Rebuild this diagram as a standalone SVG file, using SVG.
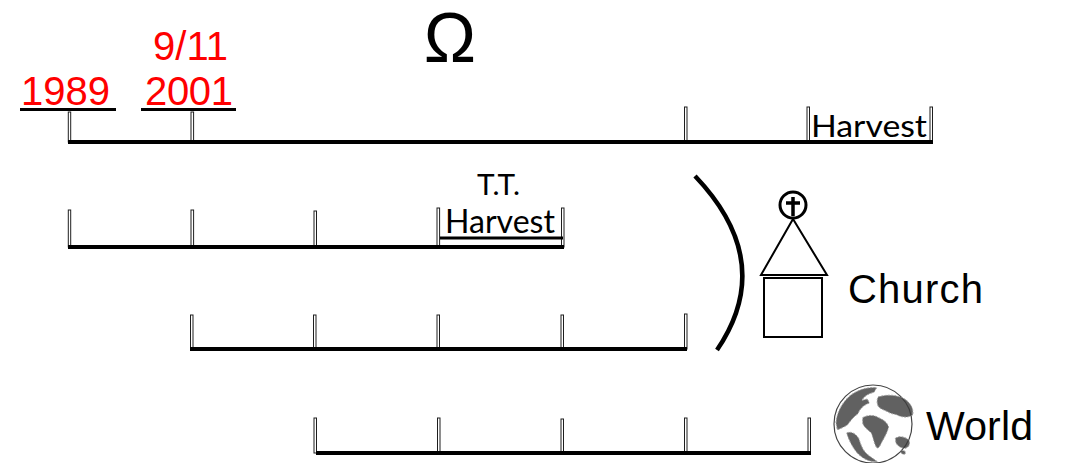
<svg xmlns="http://www.w3.org/2000/svg" width="1066" height="463" viewBox="0 0 1066 463">
<style>
.ln{stroke:#000;stroke-width:4;fill:none}
.ul{stroke:#000;stroke-width:3;fill:none}
.tk{fill:#fff;stroke:#1e1e1e;stroke-width:1}
.red{font-family:"Liberation Sans",Arial,sans-serif;font-size:40px;fill:#ff0000}
.sans{font-family:"Liberation Sans",Arial,sans-serif;fill:#000}
.cal{font-family:Lato,"Open Sans",sans-serif;fill:#000}
</style>
<rect width="1066" height="463" fill="#fff"/>

<g id="omega"><text class="sans" x="450" y="62" font-size="70" text-anchor="middle">Ω</text></g>

<g id="label-1989">
<text class="red" x="21" y="105" textLength="89">1989</text>
<path class="ul" d="M20 109.5H116"/>
</g>
<g id="label-2001">
<text class="red" x="153" y="60" textLength="75">9/11</text>
<text class="red" x="145" y="105" textLength="88">2001</text>
<path class="ul" d="M141 109.5H236"/>
</g>

<g id="connectors">
<!-- row 1 -->
<rect class="tk" x="68.3" y="112" width="2.4" height="30"/>
<rect class="tk" x="191" y="112" width="2.6" height="30"/>
<rect class="tk" x="684.5" y="107" width="2.5" height="35"/>
<rect class="tk" x="807" y="107" width="2.5" height="35"/>
<rect class="tk" x="930" y="107" width="2.5" height="36"/>
<path class="ln" d="M68 142H933"/>
<!-- row 2 -->
<rect class="tk" x="68.3" y="210" width="2.4" height="37"/>
<rect class="tk" x="191" y="210" width="2.6" height="37"/>
<rect class="tk" x="314" y="211" width="2.5" height="36"/>
<rect class="tk" x="437" y="208" width="2.6" height="39"/>
<rect class="tk" x="561.5" y="208" width="2.5" height="39"/>
<path class="ul" d="M440 238H563"/>
<path class="ln" d="M68 247H564"/>
<!-- row 3 -->
<rect class="tk" x="190.5" y="315" width="2.5" height="34"/>
<rect class="tk" x="313.5" y="315" width="2.5" height="34"/>
<rect class="tk" x="437" y="315" width="2.5" height="34"/>
<rect class="tk" x="561" y="315" width="2.5" height="34"/>
<rect class="tk" x="684.5" y="314" width="2.5" height="35"/>
<path class="ln" d="M190 349H687"/>
<!-- row 4 -->
<rect class="tk" x="314" y="418" width="2.5" height="35"/>
<rect class="tk" x="437.5" y="418" width="2.5" height="35"/>
<rect class="tk" x="561" y="419" width="2.5" height="34"/>
<rect class="tk" x="684.5" y="418" width="2.5" height="35"/>
<rect class="tk" x="808" y="418" width="2.5" height="36"/>
<path class="ln" d="M316 453H811"/>
<!-- bracket -->
<path d="M695 176Q777 262 717 350" fill="none" stroke="#000" stroke-width="4.5"/>
</g>

<g id="harvest-top"><text class="cal" x="811" y="137" font-size="31" textLength="116" lengthAdjust="spacingAndGlyphs">Harvest</text></g>
<g id="tt-harvest">
<text class="cal" x="477" y="195" font-size="28" textLength="43" lengthAdjust="spacingAndGlyphs">T.T.</text>
<text class="cal" x="445" y="233" font-size="32" textLength="110" lengthAdjust="spacingAndGlyphs">Harvest</text>
</g>

<g id="church">
<circle cx="793" cy="205" r="13" fill="#fff" stroke="#000" stroke-width="3"/>
<path d="M793 197V216M786 203H800" stroke="#000" stroke-width="3.5" fill="none"/>
<path d="M793 219L761 275H827Z" fill="#fff" stroke="#000" stroke-width="2"/>
<rect x="764" y="278" width="58" height="59" fill="#fff" stroke="#000" stroke-width="2"/>
<text class="sans" x="848" y="303" font-size="40" textLength="135">Church</text>
</g>

<g id="world">
<circle cx="873" cy="424" r="39" fill="#fff" stroke="#444" stroke-width="1.2"/>
<g transform="translate(830 383) scale(0.3333)" fill="#3a3a3a" opacity="0.8" stroke="#888" stroke-width="3" stroke-dasharray="6 4">
<path d="M18 120C20 90 35 60 60 38C85 20 110 12 140 14L132 28C115 32 102 40 96 52L112 48L118 60C102 66 90 76 84 92C72 100 62 112 52 126C42 132 30 138 22 140Z"/>
<path d="M50 150C62 144 76 150 86 166C92 182 96 198 108 210C118 220 132 228 142 236C118 238 96 226 80 208C66 190 56 170 50 150Z"/>
<path d="M144 42C168 34 200 34 224 48C242 60 252 78 248 96C236 104 220 104 206 98C196 92 184 94 176 88C166 82 156 80 146 72C140 62 140 52 144 42Z"/>
<path d="M98 104C112 96 130 94 146 104C160 110 172 118 176 132C172 148 164 162 156 176C150 188 146 198 140 194C132 182 130 164 124 150C114 140 102 134 98 120Z"/>
<path d="M196 166C206 158 222 160 236 170C242 180 238 192 226 196C214 196 204 190 198 180Z"/>
<path d="M212 204C220 200 228 204 226 212C220 216 212 212 212 204Z"/>
</g>
<text class="sans" x="926" y="440" font-size="41" textLength="107">World</text>
</g>
</svg>
